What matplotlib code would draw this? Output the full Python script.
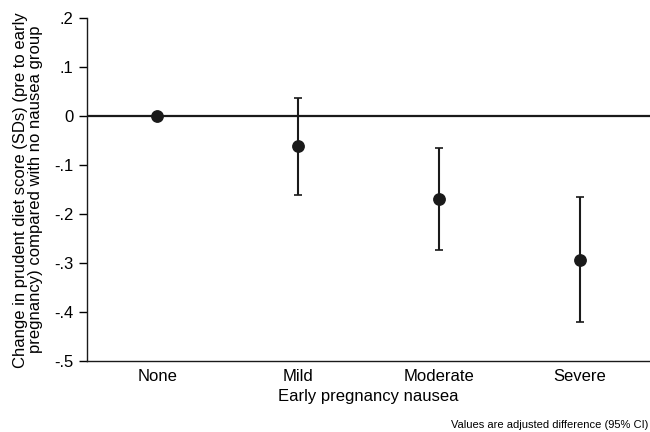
import matplotlib
matplotlib.use("Agg")
import matplotlib.pyplot as plt

categories = ["None", "Mild", "Moderate", "Severe"]
estimates = [0.0, -0.061, -0.170, -0.293]
ci_lower = [0.0, -0.161, -0.274, -0.421]
ci_upper = [0.0, 0.037, -0.065, -0.166]
ytick_vals = [0.2, 0.1, 0.0, -0.1, -0.2, -0.3, -0.4, -0.5]
ytick_labels = [".2", ".1", "0", "-.1", "-.2", "-.3", "-.4", "-.5"]

plt.rcParams['font.family'] = ['Liberation Sans', 'DejaVu Sans']

fig = plt.figure(figsize=(6.5, 4.32), dpi=100)
ax = fig.add_axes([0.134, 0.164, 0.866, 0.794])

x = list(range(1, len(categories) + 1))
ax.axhline(0, color='#1a1a1a', lw=1.6, zorder=1)

err_x, err_lo, err_hi, err_y = [], [], [], []
for xi, e, lo, hi in zip(x, estimates, ci_lower, ci_upper):
    if hi != lo:
        err_x.append(xi); err_y.append(e)
        err_lo.append(e - lo); err_hi.append(hi - e)
ax.errorbar(err_x, err_y, yerr=[err_lo, err_hi], fmt='none', ecolor='#1a1a1a',
            elinewidth=1.5, capsize=2.6, capthick=1.2, zorder=2)
ax.plot(x, estimates, 'o', color='#1a1a1a', markersize=8.2, zorder=3)

ax.set_xlim(0.5, 4.5)
ax.set_ylim(-0.5, 0.2)
ax.set_xticks(x)
ax.set_xticklabels(categories, fontsize=12)
ax.tick_params(axis='x', length=0, pad=6)
ax.set_yticks(ytick_vals)
ax.set_yticklabels(ytick_labels, fontsize=12)
ax.tick_params(axis='y', length=6, width=1, direction='out', pad=4)

for s in ['top', 'right']:
    ax.spines[s].set_visible(False)
for s in ['left', 'bottom']:
    ax.spines[s].set_linewidth(1.0)
    ax.spines[s].set_color('#1a1a1a')

ax.set_xlabel("Early pregnancy nausea", fontsize=12, labelpad=3)
ax.set_ylabel("Change in prudent diet score (SDs) (pre to early\npregnancy) compared with no nausea group",
              fontsize=12, labelpad=8, linespacing=0.95)

fig.text(0.997, 0.005, "Values are adjusted difference (95% CI)", ha='right', va='bottom', fontsize=8)

fig.savefig("out.png", dpi=100)
